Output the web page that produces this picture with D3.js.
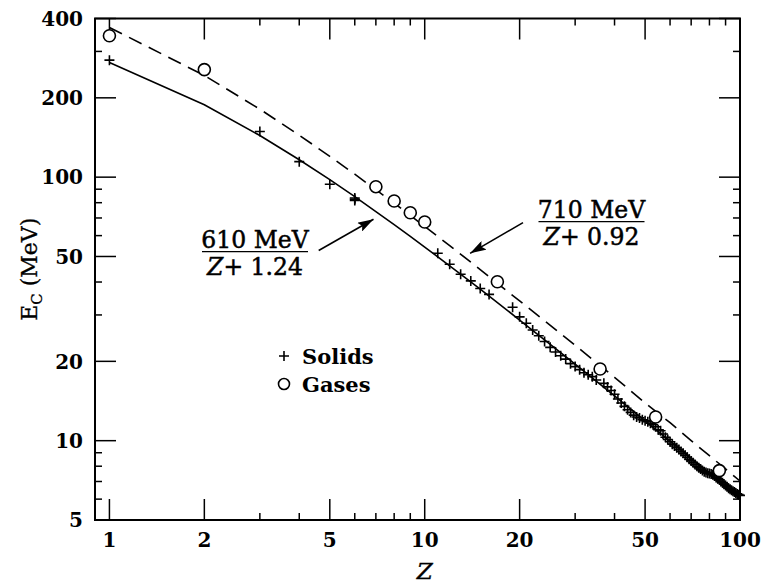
<!DOCTYPE html>
<html>
<head>
<meta charset="utf-8">
<script src="https://cdn.jsdelivr.net/npm/d3@7"></script>
<style>
  body { margin: 0; background: #fff; }
  text { font-family: "DejaVu Serif", serif; fill: #000; }
</style>
</head>
<body>
<svg id="chart" width="762" height="583"></svg>
<script>
// solids (crosses)
let solidZ = [1, 3, 4, 5, 6, 6, 6, 11, 12, 13, 14, 15, 16,
  19, 20, 21, 22, 23, 24, 25, 26, 27, 28, 29, 30, 31, 32, 33, 34, 35,
  37, 38, 39, 40, 41, 42, 43, 44, 45, 46, 47, 48, 49, 50, 51, 52, 53, 54, 55, 56, 57, 58, 59, 60,
  61, 62, 63, 64, 65, 66, 67, 68, 69, 70, 71, 72, 73, 74, 75, 76, 77, 78, 79, 80,
  81, 82, 83, 84, 85, 86, 87, 88, 89, 90, 91, 92, 93, 94, 95, 96, 97, 98, 99, 100]
let solidE = [278, 149, 114.5, 94, 81.5, 82.4, 83.3, 51.4, 46.7, 42.8, 40.4, 37.8, 35.9,
  32.1, 29.5, 27.9, 26.3, 25.0, 23.8, 22.6, 21.7, 21.0, 20.4, 19.6, 19.1, 18.6, 18.1, 17.8, 17.5, 17.0,
  16.5, 16.0, 15.5, 15.0, 14.4, 13.9, 13.5, 13.1, 12.8, 12.5, 12.3, 12.2, 12.0, 11.9, 11.8, 11.65, 11.5, 11.3, 11.0, 10.9, 10.6, 10.3, 10.1, 9.9,
  9.7, 9.55, 9.4, 9.25, 9.1, 8.95, 8.8, 8.65, 8.5, 8.38, 8.25, 8.12, 8.0, 7.9, 7.8, 7.7, 7.62, 7.57, 7.53, 7.5,
  7.47, 7.43, 7.35, 7.25, 7.17, 7.1, 7.0, 6.92, 6.84, 6.76, 6.68, 6.6, 6.54, 6.48, 6.43, 6.38, 6.33, 6.28, 6.24, 6.2]

// gases (circles)
let gasZ = [1, 2, 7, 8, 9, 10, 17, 36, 54, 86]
let gasE = [344, 256, 92, 81.2, 73.3, 67.6, 40.1, 18.7, 12.3, 7.7]

// fit curves: 610 MeV/(Z+1.24) solid, 710 MeV/(Z+0.92) dashed
let fitZ = [1, 2, 3, 4, 5, 6, 7, 8, 9, 10, 12, 15, 20, 30, 40, 50, 60, 70, 80, 90, 100]
let fitSolidE = [272.3, 188.3, 143.9, 116.4, 97.8, 84.3, 74.0, 66.0, 59.6, 54.3, 46.1, 37.6, 28.7, 19.5, 14.8, 11.9, 9.96, 8.57, 7.51, 6.69, 6.03]
let fitGasE = [369.8, 243.2, 181.1, 144.3, 119.9, 102.6, 89.6, 79.6, 71.6, 65.0, 55.0, 44.6, 33.9, 23.0, 17.4, 13.9, 11.7, 10.0, 8.77, 7.81, 7.03]

let xTickLabels = [1, 2, 5, 10, 20, 50, 100]
let xMinor = [3, 4, 6, 7, 8, 9, 30, 40, 60, 70, 80, 90]
let yTickLabels = [5, 10, 20, 50, 100, 200, 400]
let yMinor = [6, 7, 8, 9, 30, 40, 60, 70, 80, 90, 300]

let mLeft = 95, mRight = 740, mTop = 18.5, mBottom = 520

const svg = d3.select("#chart")

let x = d3.scaleLog().domain([0.9, 100]).range([mLeft, mRight])
let y = d3.scaleLog().domain([5, 400]).range([mBottom, mTop])

let majorLen = 21, minorLen = 7

// ticks (inward, all four sides)
const ticks = svg.append("g").attr("stroke", "#000").attr("stroke-width", 1.5)
xTickLabels.concat(xMinor).forEach(v => {
  let len = xTickLabels.includes(v) ? majorLen : minorLen
  ticks.append("line").attr("x1", x(v)).attr("x2", x(v)).attr("y1", mBottom).attr("y2", mBottom - len)
  ticks.append("line").attr("x1", x(v)).attr("x2", x(v)).attr("y1", mTop).attr("y2", mTop + len)
})
yTickLabels.concat(yMinor).forEach(v => {
  let len = yTickLabels.includes(v) ? majorLen : minorLen
  ticks.append("line").attr("y1", y(v)).attr("y2", y(v)).attr("x1", mLeft).attr("x2", mLeft + len)
  ticks.append("line").attr("y1", y(v)).attr("y2", y(v)).attr("x1", mRight).attr("x2", mRight - len)
})

// frame
svg.append("rect")
  .attr("x", mLeft).attr("y", mTop)
  .attr("width", mRight - mLeft).attr("height", mBottom - mTop)
  .attr("fill", "none").attr("stroke", "#000").attr("stroke-width", 2)

// tick labels
svg.append("g").selectAll("text").data(xTickLabels).join("text")
  .attr("x", d => x(d)).attr("y", 547)
  .attr("text-anchor", "middle")
  .style("font-size", "20px").style("font-weight", "bold")
  .text(d => d)

svg.append("g").selectAll("text").data(yTickLabels).join("text")
  .attr("x", 83).attr("y", d => y(d)).attr("dy", "0.36em")
  .attr("text-anchor", "end")
  .style("font-size", "20px").style("font-weight", "bold")
  .text(d => d)

// axis titles
svg.append("text")
  .attr("x", x(10)).attr("y", 579)
  .attr("text-anchor", "middle")
  .style("font-size", "23px").style("font-style", "italic")
  .attr("stroke", "#000").attr("stroke-width", 0.4)
  .text("Z")

const yTitle = svg.append("text")
  .attr("transform", `translate(37,${(mTop + mBottom) / 2}) rotate(-90)`)
  .attr("text-anchor", "middle")
  .attr("fill", "#000").attr("stroke", "#000").attr("stroke-width", 0.3)
  .style("font-size", "22px")
yTitle.append("tspan").text("E")
yTitle.append("tspan").attr("dy", 5).style("font-size", "15px").text("C")
yTitle.append("tspan").attr("dy", -5).text(" (MeV)")

// fit lines
let line = d3.line().x(d => x(d[0])).y(d => y(d[1]))
svg.append("path")
  .datum(d3.zip(fitZ, fitSolidE))
  .attr("d", line)
  .attr("fill", "none").attr("stroke", "#000").attr("stroke-width", 1.6)
svg.append("path")
  .datum(d3.zip(fitZ, fitGasE))
  .attr("d", line)
  .attr("fill", "none").attr("stroke", "#000").attr("stroke-width", 1.6)
  .attr("stroke-dasharray", "14,8")

// crosses
let cs = 5
let solids = svg.append("g").attr("stroke", "#000").attr("stroke-width", 1.6)
d3.zip(solidZ, solidE).forEach(([z, e]) => {
  solids.append("path")
    .attr("d", `M${x(z) - cs},${y(e)}h${2 * cs}M${x(z)},${y(e) - cs}v${2 * cs}`)
})

// circles
svg.append("g").selectAll("circle").data(d3.zip(gasZ, gasE)).join("circle")
  .attr("cx", d => x(d[0])).attr("cy", d => y(d[1])).attr("r", 6)
  .attr("fill", "#fff").attr("stroke", "#000").attr("stroke-width", 1.6)

// legend
svg.append("path").attr("d", "M279,356h10M284,351v10").attr("stroke", "#000").attr("stroke-width", 1.6)
svg.append("circle").attr("cx", 284).attr("cy", 384).attr("r", 5.5)
  .attr("fill", "none").attr("stroke", "#000").attr("stroke-width", 1.6)
svg.append("text").attr("x", 302).attr("y", 364)
  .style("font-size", "21px").style("font-weight", "bold").text("Solids")
svg.append("text").attr("x", 302).attr("y", 392)
  .style("font-size", "21px").style("font-weight", "bold").text("Gases")

// arrows
svg.append("defs").append("marker")
  .attr("id", "head").attr("viewBox", "0 0 16 10")
  .attr("refX", 16).attr("refY", 5)
  .attr("markerWidth", 16).attr("markerHeight", 10)
  .attr("markerUnits", "userSpaceOnUse")
  .attr("orient", "auto")
  .append("path").attr("d", "M0,0L16,5L0,10L3,5Z").attr("fill", "#000")

let arrows = [
  [[4.61, 52.7], [6.88, 69.2]],
  [[20.5, 67.2], [13.93, 51.4]]
]
svg.append("g").selectAll("line").data(arrows).join("line")
  .attr("x1", d => x(d[0][0])).attr("y1", d => y(d[0][1]))
  .attr("x2", d => x(d[1][0])).attr("y2", d => y(d[1][1]))
  .attr("stroke", "#000").attr("stroke-width", 1.6)
  .attr("marker-end", "url(#head)")

// fraction labels
function fraction(cx, ly, num, k) {
  let g = svg.append("g")
  g.append("text").attr("x", cx).attr("y", ly - 4).attr("text-anchor", "middle")
    .attr("stroke", "#000").attr("stroke-width", 0.5)
    .style("font-size", "23.5px").text(num)
  g.append("line").attr("x1", cx - 53).attr("x2", cx + 53).attr("y1", ly).attr("y2", ly)
    .attr("stroke", "#000").attr("stroke-width", 1.3)
  let t = g.append("text").attr("x", cx).attr("y", ly + 23).attr("text-anchor", "middle")
    .attr("stroke", "#000").attr("stroke-width", 0.5)
    .style("font-size", "23.5px")
  t.append("tspan").style("font-style", "italic").text("Z")
  t.append("tspan").text("+ " + k)
}
fraction(255, 251.7, "610 MeV", "1.24")
fraction(591.5, 221.7, "710 MeV", "0.92")
</script>
</body>
</html>
